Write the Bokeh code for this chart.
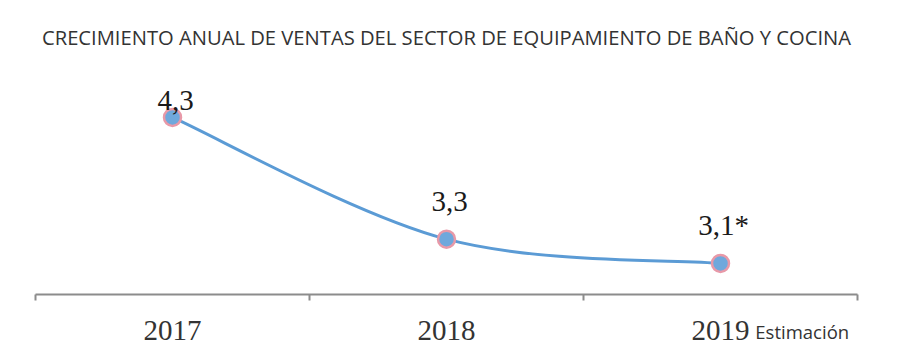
from bokeh.plotting import figure
from bokeh.models import Range1d, FixedTicker, Label, ColumnDataSource
from bokeh.core.properties import value
from bokeh.embed import file_html
from bokeh.resources import INLINE

# Data
years = ["2017", "2018", "2019"]
growth = [4.3, 3.3, 3.1]
point_labels = ["4,3", "3,3", "3,1*"]
title_text = "CRECIMIENTO ANUAL DE VENTAS DEL SECTOR DE EQUIPAMIENTO DE BAÑO Y COCINA"
note_text = "Estimación"

# Styles
label_dy = [-17, -38, -38]
LINE = "#5B9BD5"

xs = [i + 0.5 for i in range(len(years))]

p = figure(width=900, height=351, output_backend="svg", toolbar_location=None,
           x_range=Range1d(0, 3), y_range=Range1d(2.845, 5.261),
           y_axis_location=None, min_border_left=35, min_border_right=43,
           min_border_top=0, min_border_bottom=57)
p.outline_line_color = None
p.xgrid.visible = False
p.ygrid.visible = False
p.background_fill_color = "white"

# Smoothed line (Catmull-Rom -> cubic Bezier) from the data points
pts = list(zip(xs, growth))
x0s, y0s, x1s, y1s, cx0, cy0, cx1, cy1 = [], [], [], [], [], [], [], []
n = len(pts)
for i in range(n - 1):
    P0 = pts[max(i - 1, 0)]
    P1 = pts[i]
    P2 = pts[i + 1]
    P3 = pts[min(i + 2, n - 1)]
    x0s.append(P1[0]); y0s.append(P1[1])
    x1s.append(P2[0]); y1s.append(P2[1])
    cx0.append(P1[0] + (P2[0] - P0[0]) / 6); cy0.append(P1[1] + (P2[1] - P0[1]) / 6)
    cx1.append(P2[0] - (P3[0] - P1[0]) / 6); cy1.append(P2[1] - (P3[1] - P1[1]) / 6)
p.bezier(x0=x0s, y0=y0s, x1=x1s, y1=y1s, cx0=cx0, cy0=cy0, cx1=cx1, cy1=cy1,
         line_color=LINE, line_width=3)

src = ColumnDataSource(dict(x=xs, y=growth, t=point_labels, dy=label_dy))
p.scatter("x", "y", source=src, size=17, fill_color="#6FA8DC",
          line_color="#E899A8", line_width=2.5)
p.text("x", "y", text="t", source=src, text_align="center",
       text_baseline="alphabetic", x_offset=3, y_offset="dy",
       text_font=value("Liberation Serif"), text_font_size="29px",
       text_color="#1a1a1a")

# Axis
ax = p.xaxis[0]
ax.ticker = FixedTicker(ticks=xs, minor_ticks=[0, 1, 2, 3])
ax.major_label_overrides = {x: y for x, y in zip(xs, years)}
ax.major_tick_line_color = None
ax.major_tick_out = 0
ax.minor_tick_out = 6
ax.minor_tick_in = 0
ax.minor_tick_line_color = "#8c8c8c"
ax.minor_tick_line_width = 2
ax.axis_line_color = "#8c8c8c"
ax.axis_line_width = 2
ax.major_label_standoff = 20
ax.major_label_text_font = "Liberation Serif"
ax.major_label_text_font_size = "29px"
ax.major_label_text_color = "#333333"

# note under the axis, right-aligned (non-breaking spaces pad it in from the edge)
ax.axis_label = note_text + "\u00a0" * 23
ax.axis_label_text_font = "Open Sans"
ax.axis_label_text_font_size = "18.5px"
ax.axis_label_text_font_style = "normal"
ax.axis_label_text_color = "#333333"
ax.axis_label_standoff = -24
ax.axis_label_align = "end"

p.add_layout(Label(x=1.5, y=4.957, text=title_text, text_align="center",
                   text_baseline="middle", text_font="Open Sans",
                   text_font_size="20.2px", text_color="#333333"))

open("out.html", "w").write(file_html(p, INLINE))
